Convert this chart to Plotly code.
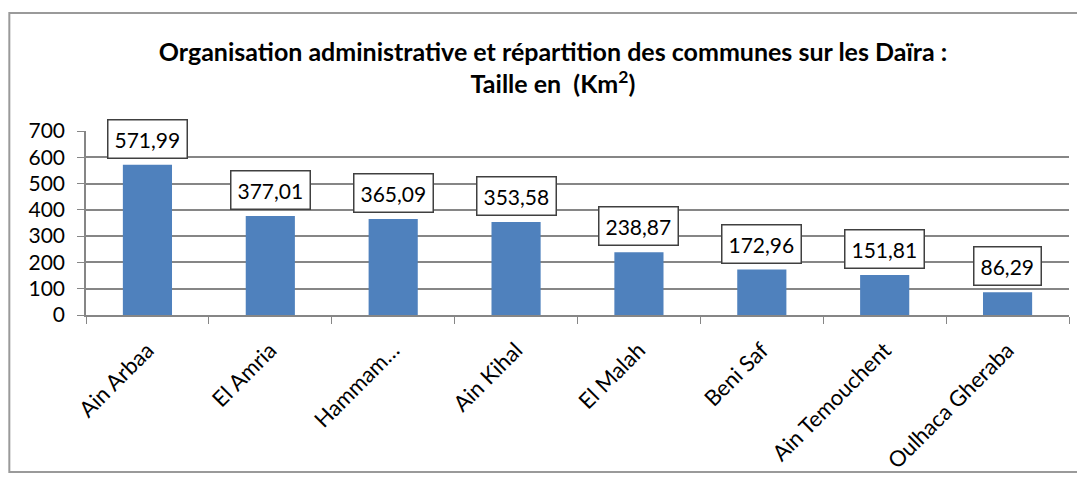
import plotly.graph_objects as go

# données
dairas = ['Ain Arbaa', 'El Amria', 'Hammam…', 'Ain Kihal', 'El Malah',
          'Beni Saf', 'Ain Temouchent', 'Oulhaca Gheraba']
taille_km2 = [571.99, 377.01, 365.09, 353.58, 238.87, 172.96, 151.81, 86.29]
y_ticks = [0, 100, 200, 300, 400, 500, 600, 700]

fig = go.Figure()
fig.add_trace(go.Bar(
    x=dairas, y=taille_km2,
    marker=dict(color='#4F81BD', line=dict(width=0)),
    width=0.4, hoverinfo='x+y'
))

# étiquettes encadrées
for d, v in zip(dairas, taille_km2):
    fig.add_annotation(
        x=d, y=v, yanchor='bottom', yshift=6,
        text=f"{v:.2f}".replace('.', ','),
        showarrow=False, font=dict(size=21, color='black'),
        bordercolor='#404040', borderwidth=1.5, borderpad=6,
        bgcolor='white'
    )

# cadre extérieur
fig.add_shape(type='rect', xref='paper', yref='paper',
              x0=-0.078, x1=1.011, y0=-0.853, y1=1.641,
              line=dict(color='#9a9a9a', width=2), layer='below')

fig.update_layout(
    width=1077, height=473,
    margin=dict(l=78, r=16, t=123, b=166, autoexpand=False),
    paper_bgcolor='white', plot_bgcolor='white',
    font=dict(family='Lato, Open Sans, sans-serif', color='black'),
    title=dict(
        text="<b>Organisation administrative et répartition des communes sur les Daïra :<br>"
             "Taille en  (Km<sup>2</sup>)</b>",
        x=0.506, xanchor='center', y=0.888, yanchor='middle',
        font=dict(size=25, color='black')
    ),
    showlegend=False, bargap=0.6,
    xaxis=dict(
        tickangle=-45, tickfont=dict(size=22), tickson='boundaries',
        ticks='outside', ticklen=7, tickcolor='#868686',
        showline=True, linecolor='#868686', linewidth=1.5,
        showgrid=False, ticklabelstandoff=12
    ),
    yaxis=dict(
        range=[0, 700], tickvals=y_ticks, tickfont=dict(size=21),
        ticks='outside', ticklen=7, tickcolor='#868686',
        showline=True, linecolor='#868686', linewidth=1.5,
        showgrid=True, gridcolor='#868686', gridwidth=1.5,
        zeroline=False, ticklabelstandoff=8
    )
)

fig.write_html("out.html")
